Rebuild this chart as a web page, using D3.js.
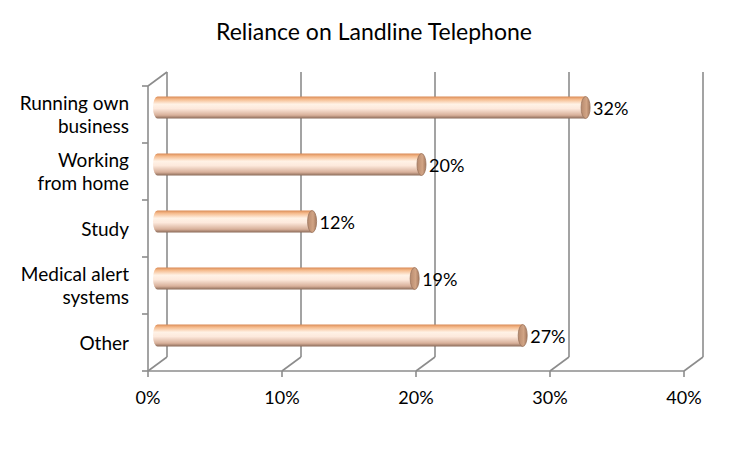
<!DOCTYPE html>
<html><head><meta charset="utf-8">
<script src="https://cdn.jsdelivr.net/npm/d3@7"></script>
<style>body{margin:0;background:#fff}svg{display:block}</style>
</head><body>
<svg id="c" width="750" height="450"></svg>
<script>
const title = "Reliance on Landline Telephone";
const categories = [["Running own","business"],["Working","from home"],["Study"],["Medical alert","systems"],["Other"]];
const values = [0.32, 0.20, 0.12, 0.195, 0.274];
const valueLabels = ["32%","20%","12%","19%","27%"];
const ticks = [0, 0.1, 0.2, 0.3, 0.4];
const tickLabels = ["0%","10%","20%","30%","40%"];

const svg = d3.select("#c");
const font = "Lato, Open Sans, sans-serif";
const x = d3.scaleLinear().domain([0,0.4]).range([148,684]);
const xb = d3.scaleLinear().domain([0,0.4]).range([148,695]);
const keys = categories.map((c,i)=>i);
const y = d3.scaleBand().domain(keys).range([86,371]).padding(0);
const DX = 19, DY = -14;
const grid = "#8c8c8c";

svg.append("text").attr("x",374).attr("y",40).attr("text-anchor","middle")
  .attr("font-family",font).attr("font-size",23).attr("fill","#000").text(title);

const g = svg.append("g");
g.selectAll(".gl").data(ticks).join("line")
  .attr("x1",d=>x(d)+DX).attr("x2",d=>x(d)+DX)
  .attr("y1",371+DY).attr("y2",86+DY)
  .attr("stroke",grid).attr("stroke-width",1.6);
g.selectAll(".fd").data(ticks).join("line")
  .attr("x1",d=>x(d)).attr("x2",d=>x(d)+DX)
  .attr("y1",371).attr("y2",371+DY)
  .attr("stroke",grid).attr("stroke-width",1.6);
g.append("line").attr("x1",x(0)).attr("x2",x(0.4)).attr("y1",371).attr("y2",371)
  .attr("stroke",grid).attr("stroke-width",1.6);
g.selectAll(".bt").data(ticks).join("line")
  .attr("x1",d=>x(d)).attr("x2",d=>x(d)).attr("y1",371).attr("y2",377)
  .attr("stroke",grid).attr("stroke-width",1.6);
g.append("line").attr("x1",x(0)).attr("x2",x(0)).attr("y1",86).attr("y2",371)
  .attr("stroke",grid).attr("stroke-width",1.6);
g.append("line").attr("x1",x(0)).attr("x2",x(0)+DX).attr("y1",86).attr("y2",86+DY)
  .attr("stroke",grid).attr("stroke-width",1.6);
const bounds = keys.map(k=>y(k)).concat([371]);
g.selectAll(".lt").data(bounds).join("line")
  .attr("x1",x(0)-6).attr("x2",x(0)).attr("y1",d=>d).attr("y2",d=>d)
  .attr("stroke",grid).attr("stroke-width",1.6);

const defs = svg.append("defs");
const grad = defs.append("linearGradient").attr("id","cyl").attr("x1",0).attr("y1",0).attr("x2",0).attr("y2",1);
[[0,"#d98a55"],[0.12,"#f5b98a"],[0.35,"#fff2e6"],[0.55,"#fde9dc"],[0.85,"#d8b09a"],[1,"#8a6a58"]]
  .forEach(([o,c])=>grad.append("stop").attr("offset",o).attr("stop-color",c));
const capG = defs.append("linearGradient").attr("id","cap").attr("x1",0).attr("y1",0).attr("x2",1).attr("y2",0);
[[0,"#b78a6e"],[0.6,"#d1a485"],[1,"#a57a60"]]
  .forEach(([o,c])=>capG.append("stop").attr("offset",o).attr("stop-color",c));

const bh = 22, rx = 4.5;
const bars = svg.append("g").selectAll("g").data(keys).join("g");
const cy = k => y(k) + y.bandwidth()/2 + DY/2;
const bx0 = x(0) + DX/2;
const bx1 = k => xb(values[k]);
bars.append("path")
  .attr("d",k=>{
    const t = cy(k)-bh/2, b = cy(k)+bh/2;
    return `M${bx1(k)},${t} L${bx0},${t} A${rx},${bh/2} 0 0 0 ${bx0},${b} L${bx1(k)},${b} Z`;
  })
  .attr("fill","url(#cyl)");
bars.append("ellipse")
  .attr("cx",k=>bx1(k)).attr("cy",k=>cy(k)).attr("rx",rx).attr("ry",bh/2)
  .attr("fill","url(#cap)").attr("stroke","#9a735c").attr("stroke-width",0.8);
bars.append("text")
  .attr("x",k=>bx1(k)+rx+3).attr("y",k=>cy(k)+7)
  .attr("font-family",font).attr("font-size",18).attr("fill","#000")
  .text(k=>valueLabels[k]);

const cl = svg.append("g").selectAll("text").data(keys).join("text")
  .attr("text-anchor","end").attr("font-family",font).attr("font-size",19).attr("fill","#000");
cl.each(function(k){
  const lines = categories[k];
  const c = y(k) + y.bandwidth()/2;
  const lh = 23;
  const start = c - (lines.length-1)*lh/2 + 7;
  d3.select(this).selectAll("tspan").data(lines).join("tspan")
    .attr("x",129).attr("y",(d,i)=>start+i*lh).text(d=>d);
});

svg.append("g").selectAll("text").data(ticks).join("text")
  .attr("x",d=>x(d)).attr("y",404).attr("text-anchor","middle")
  .attr("font-family",font).attr("font-size",18).attr("fill","#000")
  .text((d,i)=>tickLabels[i]);
</script>
</body></html>
